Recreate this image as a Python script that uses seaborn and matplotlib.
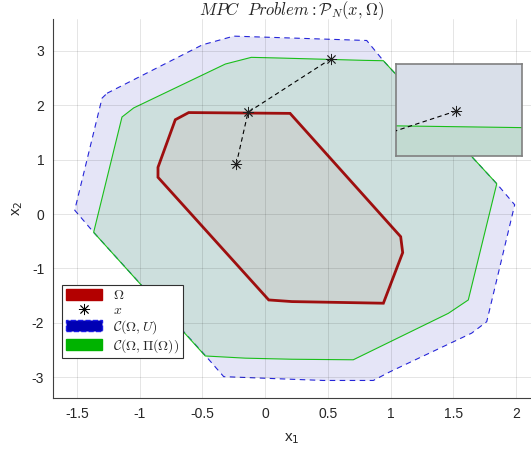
import numpy as np
import pandas as pd
import seaborn as sns
import matplotlib
matplotlib.use("Agg")
import matplotlib.pyplot as plt
from matplotlib.patches import Patch
from matplotlib.lines import Line2D

# ---------------- data ----------------
# C(Omega, U)  (blue, dashed edge)
blue_x = [-1.26, -0.50, -0.25, 0.81, 0.943, 1.847, 1.99, 1.767, 1.647, 0.996, 0.863, 0.464, 0.119, -0.33, -0.477, -1.367, -1.518, -1.30]
blue_y = [2.22, 3.11, 3.27, 3.19, 2.818, 0.557, 0.17, -1.98, -2.19, -2.90, -3.06, -3.06, -3.03, -2.99, -2.60, -0.337, 0.07, 2.13]

# C(Omega, Pi(Omega))  (green)
green_x = [-1.141, -1.048, -0.317, -0.110, 0.108, 0.783, 0.943, 1.847, 1.62, 1.461, 0.703, 0.214, -0.158, -0.477, -1.367]
green_y = [1.783, 1.95, 2.757, 2.88, 2.868, 2.825, 2.818, 0.557, -1.58, -1.826, -2.68, -2.67, -2.65, -2.61, -0.337]

# Omega (red)
red_x = [-0.609, 0.199, 1.081, 1.097, 0.943, 0.214, 0.029, -0.854, -0.854, -0.716]
red_y = [1.865, 1.85, -0.417, -0.71, -1.64, -1.61, -1.58, 0.675, 0.858, 1.733]

# trajectory x
traj_x = [0.526, -0.136, -0.229]
traj_y = [2.855, 1.87, 0.925]

xticks = [-1.5, -1, -0.5, 0, 0.5, 1, 1.5, 2]
yticks = [-3, -2, -1, 0, 1, 2, 3]
labels = [r'$\Omega$', r'$x$', r'$\mathcal{C}(\Omega,U)$', r'$\mathcal{C}(\Omega,\Pi(\Omega))$']

# ---------------- style ----------------
sns.set_style("white")
plt.rcParams['font.family'] = ['Liberation Sans', 'DejaVu Sans']
plt.rcParams['mathtext.fontset'] = 'cm'

BLUE = (0, 0, 0.7)
GREEN = (0, 0.7, 0)
RED = (0.7, 0, 0)
RED_EDGE = (0.62, 0.06, 0.06)
ast = (8, 2, 0)

fig = plt.figure(figsize=(5.31, 4.57), dpi=100)
ax = fig.add_axes([52.5 / 531, (457 - 398.3) / 457, 1 - 52.5 / 531, (398.3 - 19) / 457])

df = pd.DataFrame({'x1': traj_x, 'x2': traj_y})


def draw(a):
    a.fill(blue_x, blue_y, facecolor=BLUE, alpha=0.1, edgecolor='none', zorder=1)
    a.fill(blue_x, blue_y, facecolor='none', edgecolor=(0.15, 0.15, 0.85), lw=0.8,
           linestyle=(0, (5, 4)), zorder=1.1)
    a.fill(green_x, green_y, facecolor=GREEN, alpha=0.1, edgecolor='none', zorder=1.2)
    a.fill(green_x, green_y, facecolor='none', edgecolor=(0.1, 0.75, 0.1), lw=0.8, zorder=1.3)
    a.fill(red_x, red_y, facecolor=RED, alpha=0.05, edgecolor='none', zorder=1.4)
    a.fill(red_x, red_y, facecolor='none', edgecolor=RED_EDGE, lw=2.0, zorder=1.5)
    sns.lineplot(data=df, x='x1', y='x2', sort=False, estimator=None, color='k',
                 lw=0.8, linestyle=(0, (4, 3)), ax=a, zorder=3)
    a.plot(traj_x, traj_y, linestyle='none', marker=ast, markersize=8,
           markeredgecolor='#202020', markeredgewidth=0.6, zorder=4)


draw(ax)
ax.set_xlim(-1.695, 2.12)
ax.set_ylim(-3.388, 3.585)
ax.set_xticks(xticks)
ax.set_xticklabels([f'{t:g}' for t in xticks])
ax.set_yticks(yticks)
ax.set_yticklabels([f'{t:g}' for t in yticks])
ax.set_axisbelow(False)
ax.grid(True, color='k', alpha=0.12, lw=0.6)
for s in ['top', 'right']:
    ax.spines[s].set_visible(False)
for s in ['left', 'bottom']:
    ax.spines[s].set_color('#404040')
    ax.spines[s].set_linewidth(0.8)
ax.tick_params(direction='in', length=4, width=0.7, color='#404040',
               labelsize=10, labelcolor='#262626', pad=6)
ax.set_xlabel(r'x$_1$', fontsize=11, color='#262626', math_fontfamily='dejavusans', labelpad=8)
ax.set_ylabel(r'x$_2$', fontsize=11, color='#262626', math_fontfamily='dejavusans', labelpad=5)
ax.set_title(r'$MPC\ \ Problem: \mathcal{P}_N(x,\Omega)$', fontsize=12, pad=3)

handles = [
    Patch(facecolor=RED, edgecolor=RED),
    Line2D([], [], linestyle='none', marker=ast, markersize=8, markeredgecolor='k', markeredgewidth=0.6),
    Patch(facecolor=BLUE, edgecolor=(0.1, 0.1, 0.9), linestyle='--', lw=1),
    Patch(facecolor=GREEN, edgecolor=GREEN),
]
leg = ax.legend(handles, labels, loc='lower left', bbox_to_anchor=(0.02, 0.105),
                fontsize=10, handlelength=2.6, handleheight=0.85, labelspacing=0.08,
                handletextpad=0.85, borderpad=0.25, borderaxespad=0, fancybox=False,
                framealpha=1, edgecolor='#303030')
leg.get_frame().set_linewidth(0.8)

# ---------------- inset ----------------
W, H = 0.024, 0.08
ins = fig.add_axes([396 / 531, (457 - 156.3) / 457, 125.7 / 531, 92.6 / 457])
ins.set_facecolor('#f2f9f0')
draw(ins)
ins.set_xlim(traj_x[0] - 0.48 * W, traj_x[0] + 0.52 * W)
ins.set_ylim(traj_y[0] - 0.49 * H, traj_y[0] + 0.51 * H)
ins.set_xticks([])
ins.set_yticks([])
ins.set_xlabel('')
ins.set_ylabel('')
for s in ins.spines.values():
    s.set_visible(True)
    s.set_color('#808080')
    s.set_linewidth(1.2)

fig.savefig('out.png', dpi=100)
